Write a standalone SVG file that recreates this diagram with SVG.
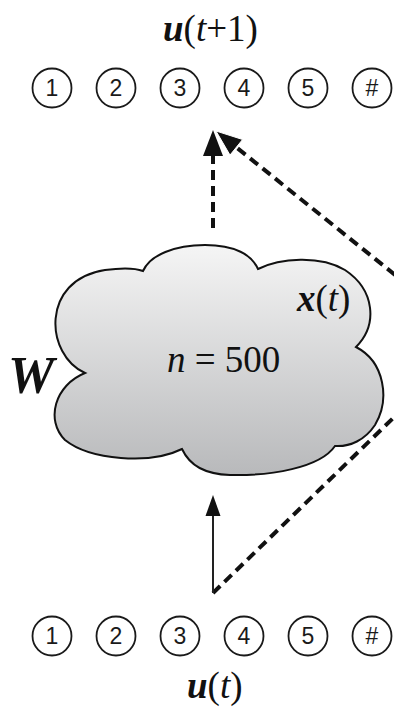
<svg xmlns="http://www.w3.org/2000/svg" width="394" height="710" viewBox="0 0 394 710">
<style>
.c{fill:#fff;stroke:#1a1a1a;stroke-width:1.8}
.d{font-family:"Liberation Sans",Arial,sans-serif;font-size:23px;fill:#1a1a1a;text-anchor:middle}
.m{font-family:"Liberation Serif","Times New Roman",serif;font-size:37px;fill:#111}
.big{font-size:52px;font-weight:bold;font-style:italic}
.dash{fill:none;stroke:#111;stroke-width:4;stroke-dasharray:10 6}
.head{fill:#111}
</style>
<defs>
<linearGradient id="g" x1="0" y1="0" x2="0" y2="1">
<stop offset="0" stop-color="#f5f5f5"/>
<stop offset="1" stop-color="#b8b9bb"/>
</linearGradient>
</defs>
<g id="label-top"><text class="m" x="163" y="41"><tspan font-weight="bold" font-style="italic">u</tspan>(<tspan font-style="italic">t</tspan>+1)</text></g>
<g id="top-row">
<g id="t1"><circle class="c" cx="52" cy="88" r="19.5"/><text class="d" x="52" y="96">1</text></g>
<g id="t2"><circle class="c" cx="116" cy="88" r="19.5"/><text class="d" x="116" y="96">2</text></g>
<g id="t3"><circle class="c" cx="180" cy="88" r="19.5"/><text class="d" x="180" y="96">3</text></g>
<g id="t4"><circle class="c" cx="244" cy="88" r="19.5"/><text class="d" x="244" y="96">4</text></g>
<g id="t5"><circle class="c" cx="308" cy="88" r="19.5"/><text class="d" x="308" y="96">5</text></g>
<g id="t6"><circle class="c" cx="372" cy="88" r="19.5"/><text class="d" x="372" y="96">#</text></g>
</g>
<g id="reservoir">
<path d="M85,373 C45,355 40,280 105,270 C120,268 135,268 143,271 C150,255 175,245 205,245 C235,245 252,255 258,269 C280,258 320,255 345,270 C375,290 378,325 356,347 C385,362 390,400 375,425 C365,440 350,447 335,446 C320,468 270,476 230,475 C205,474 190,466 182,449 C150,465 90,460 65,440 C45,420 55,385 85,373 Z" fill="url(#g)" stroke="#111" stroke-width="2"/>
<text class="m" x="297" y="311"><tspan font-weight="bold" font-style="italic">x</tspan>(<tspan font-style="italic">t</tspan>)</text>
<text class="m" x="167" y="372"><tspan font-style="italic">n</tspan> = 500</text>
</g>
<g id="W"><text class="m big" x="8" y="393">W</text></g>
<g id="connectors">
<path class="dash" d="M213,228 V156"/>
<path class="head" d="M213,130 L223,156 L203,156 Z"/>
<path class="dash" d="M420,295 L236,147"/>
<path class="head" d="M216,131 L242.6,139.5 L230,155.1 Z" stroke="#fff" stroke-width="1"/>
<path class="dash" d="M213,593 L420,392"/>
<path d="M213,593 V514" stroke="#222" stroke-width="2" fill="none"/>
<path class="head" d="M213,495 L220.5,516 L205.5,516 Z"/>
</g>
<g id="bottom-row">
<g id="b1"><circle class="c" cx="52" cy="636" r="19.5"/><text class="d" x="52" y="644">1</text></g>
<g id="b2"><circle class="c" cx="116" cy="636" r="19.5"/><text class="d" x="116" y="644">2</text></g>
<g id="b3"><circle class="c" cx="180" cy="636" r="19.5"/><text class="d" x="180" y="644">3</text></g>
<g id="b4"><circle class="c" cx="244" cy="636" r="19.5"/><text class="d" x="244" y="644">4</text></g>
<g id="b5"><circle class="c" cx="308" cy="636" r="19.5"/><text class="d" x="308" y="644">5</text></g>
<g id="b6"><circle class="c" cx="372" cy="636" r="19.5"/><text class="d" x="372" y="644">#</text></g>
</g>
<g id="label-bottom"><text class="m" x="187" y="698"><tspan font-weight="bold" font-style="italic">u</tspan>(<tspan font-style="italic">t</tspan>)</text></g>
</svg>
